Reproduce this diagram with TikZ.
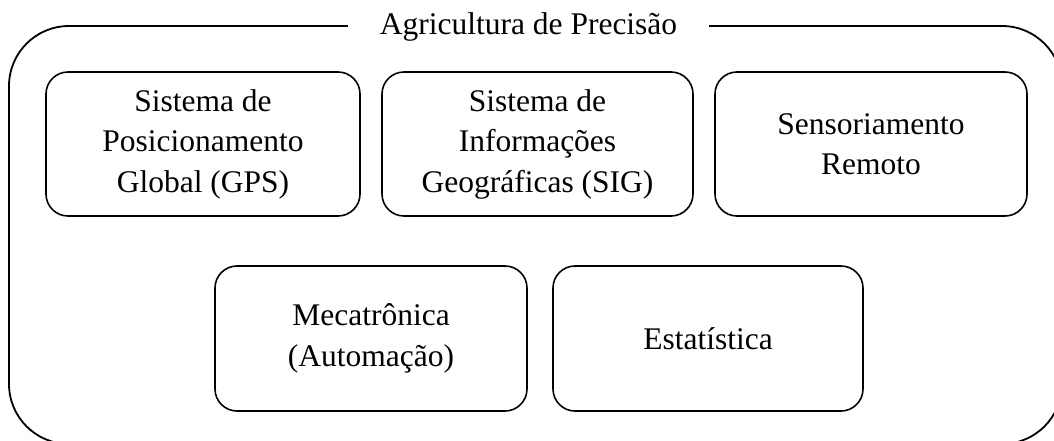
\documentclass[tikz,border=0pt]{standalone}
\usepackage{fontspec}
\setmainfont{Liberation Serif}
\begin{document}
\begin{tikzpicture}[x=1pt,y=-1pt,
  box/.style={draw=black, line width=1.6pt, rounded corners=22pt, align=center,
    font=\fontsize{31.5}{40.5}\selectfont, inner sep=0pt},
  outerbox/.style={draw=black, line width=1.8pt, rounded corners=60pt},
  titlelbl/.style={fill=white, inner xsep=32pt, inner ysep=2pt, font=\fontsize{31.5}{38}\selectfont}]
\useasboundingbox (0,0) rectangle (1054,441);
\clip (0,0) rectangle (1054,441);
\fill[white] (0,0) rectangle (1054,441);
\draw[outerbox] (9,26) rectangle (1062,444);
\node[titlelbl, anchor=base] (title) at (528.5,35) {Agricultura de Precisão};
\node[box, minimum width=314pt, minimum height=144pt] (gps) at (203,144) {Sistema de\\Posicionamento\\Global (GPS)};
\node[box, minimum width=311pt, minimum height=144pt] (sig) at (537.5,144) {Sistema de\\Informações\\Geográficas (SIG)};
\node[box, minimum width=312pt, minimum height=144pt] (sens) at (871,144) {Sensoriamento\\Remoto};
\node[box, minimum width=312pt, minimum height=145pt] (meca) at (371,338.5) {Mecatrônica\\(Automação)};
\node[box, minimum width=310pt, minimum height=145pt] (est) at (708,338.5) {Estatística};
\end{tikzpicture}
\end{document}
